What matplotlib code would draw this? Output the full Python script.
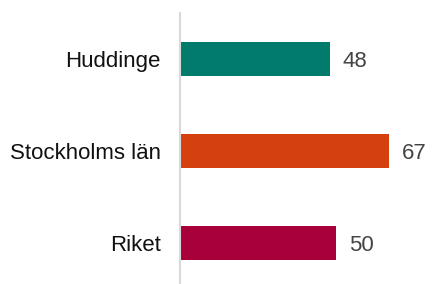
import matplotlib
matplotlib.use("Agg")
import matplotlib.pyplot as plt

categories = ["Huddinge", "Stockholms län", "Riket"]
values = [48, 67, 50]
colors = ["#007B6C", "#D5400F", "#A8003A"]

plt.rcParams['font.family'] = ['Liberation Sans', 'DejaVu Sans']

fig = plt.figure(figsize=(4.32, 2.84), dpi=100)
ax = fig.add_axes([180/432, 0, 1 - 180/432, 1 - 13/284])

pos = list(range(len(categories)))
ax.barh(pos, values, height=0.37, color=colors)
ax.set_xlim(0, 252/3.125)
ax.set_ylim(2.446, -0.5)

for p, v in zip(pos, values):
    ax.annotate(str(v), xy=(v, p), xytext=(9, 0), textcoords="offset points",
                ha="left", va="center_baseline", fontsize=16, color="#444444")

ax.set_yticks(pos)
ax.set_yticklabels(categories, fontsize=16, color="#111111", va="center_baseline")
ax.tick_params(axis="y", length=0, pad=14)
ax.set_xticks([])
for s in ["top", "right", "bottom"]:
    ax.spines[s].set_visible(False)
ax.spines["left"].set_color("#d9d9d9")
ax.spines["left"].set_linewidth(1.5)

fig.savefig("out.png", dpi=100)
